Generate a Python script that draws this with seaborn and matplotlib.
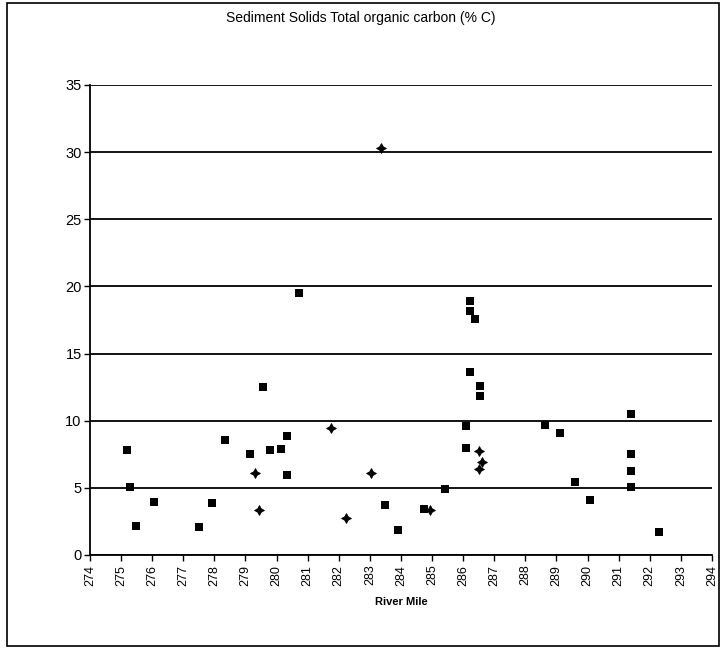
import matplotlib
matplotlib.use("Agg")
import matplotlib.pyplot as plt
import pandas as pd
import seaborn as sns
from matplotlib.patches import Rectangle

# values
sq_mile = [275.18, 275.30, 275.48, 276.06, 277.49, 277.93, 278.33, 279.14, 279.55, 279.80,
           280.13, 280.32, 280.32, 280.71, 283.49, 283.91, 284.75, 285.41, 286.10, 286.10,
           286.23, 286.53, 286.53, 286.23, 286.23, 286.37, 288.62, 289.12, 289.58, 290.08,
           291.40, 291.40, 291.40, 291.40, 292.30]
sq_toc = [7.8, 5.1, 2.16, 3.98, 2.1, 3.88, 8.58, 7.51, 12.49, 7.81,
          7.89, 8.86, 5.99, 19.48, 3.73, 1.87, 3.41, 4.9, 9.58, 7.96,
          13.63, 12.56, 11.82, 18.9, 18.2, 17.59, 9.7, 9.08, 5.47, 4.1,
          10.52, 7.51, 6.25, 5.07, 1.74]
st_mile = [279.32, 279.45, 281.75, 282.24, 283.02, 283.36, 284.93, 286.50, 286.60, 286.50]
st_toc = [6.07, 3.36, 9.48, 2.74, 6.09, 30.28, 3.36, 7.71, 6.95, 6.42]

df = pd.concat([
    pd.DataFrame({"mile": sq_mile, "toc": sq_toc, "kind": "sq"}),
    pd.DataFrame({"mile": st_mile, "toc": st_toc, "kind": "star"}),
])

plt.rcParams["font.family"] = ["Liberation Sans", "DejaVu Sans"]
fig = plt.figure(figsize=(7.21, 6.52), dpi=100)
ax = fig.add_axes([90 / 721, 1 - 555 / 652, 622 / 721, 470 / 652])

sns.scatterplot(df[df["kind"] == "sq"], x="mile", y="toc", marker="s", s=36,
                color="black", linewidth=0, ax=ax, zorder=3)
sns.scatterplot(df[df["kind"] == "star"], x="mile", y="toc", marker=(4, 1, 0), s=50,
                color="black", linewidth=0.6, edgecolor="black", ax=ax, zorder=3)

ax.set_xlim(274, 294)
ax.set_ylim(0, 35)
ax.set_xticks(range(274, 295))
ax.set_xticklabels([str(v) for v in range(274, 295)], rotation=90, fontsize=9)
ax.set_yticks(range(0, 36, 5))
ax.tick_params(axis="y", labelsize=10.5, length=4, width=1, pad=2)
ax.tick_params(axis="x", length=4, width=1, pad=3)
ax.yaxis.grid(True, color="black", linewidth=1.3)
ax.set_axisbelow(True)
for side in ["top", "right"]:
    ax.spines[side].set_visible(False)
for side in ["left", "bottom"]:
    ax.spines[side].set_color("black")
    ax.spines[side].set_linewidth(1.3)
ax.set_ylabel("")
ax.set_xlabel("River Mile", fontsize=8, fontweight="bold", labelpad=8)

fig.text(0.5, 1 - 18 / 652, "Sediment Solids Total organic carbon (% C)",
         ha="center", va="center", fontsize=10)
fig.patches.append(Rectangle((7 / 721, 6 / 652), 712 / 721, 643 / 652, fill=False,
                             edgecolor="black", linewidth=1.2, transform=fig.transFigure))

fig.savefig("out.png", dpi=100)
